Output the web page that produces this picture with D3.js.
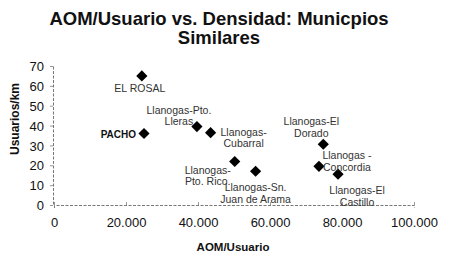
<!DOCTYPE html>
<html>
<head>
<meta charset="utf-8">
<script src="https://cdn.jsdelivr.net/npm/d3@7"></script>
<style>
  body { margin: 0; background: #fff; }
  text { font-family: Arial, "Liberation Sans", sans-serif; }
</style>
</head>
<body>
<div class="canvas"></div>
<script>
// data
const names = ['EL ROSAL', 'PACHO', 'Llanogas-Pto.|Lleras', 'Llanogas-|Cubarral', 'Llanogas-|Pto. Rico.',
    'Llanogas-Sn.|Juan de Arama', 'Llanogas-El|Dorado', 'Llanogas -|Concordia', 'Llanogas-El|Castillo'];
const aomUsuario = [24400, 25000, 39700, 43500, 50200, 56000, 74800, 73600, 78900];
const densidad = [65, 36, 39.5, 36.4, 21.9, 17, 30.6, 19.5, 15.5];
const xTicks = [0, 20000, 40000, 60000, 80000, 100000];
const yTicks = [0, 10, 20, 30, 40, 50, 60, 70];

// label placement (offset from the marker, in px)
const labelPos = [
    { dx: -2, dy: 16, anchor: 'middle' },
    { dx: -8, dy: 4, anchor: 'end', bold: true },
    { dx: -18, dy: -13, anchor: 'middle' },
    { dx: 33, dy: 3, anchor: 'middle' },
    { dx: -27, dy: 12, anchor: 'middle' },
    { dx: 0, dy: 20, anchor: 'middle' },
    { dx: -12, dy: -19, anchor: 'middle' },
    { dx: 28, dy: -7, anchor: 'middle' },
    { dx: 19, dy: 20, anchor: 'middle' }
];

const data = names.map((n, i) => ({ name: n, x: aomUsuario[i], y: densidad[i], pos: labelPos[i] }));

const width = 449, height = 262;
const svg = d3.select('.canvas')
    .append('svg')
    .attr('width', width)
    .attr('height', height);

// scales
const xScale = d3.scaleLinear().domain([0, 100000]).range([54, 414]);
const yScale = d3.scaleLinear().domain([0, 70]).range([205, 66]);

const fmt = d => d === 0 ? '0' : d3.format(',')(d).replace(/,/g, '.');

// title
const title = svg.append('text')
    .attr('x', 219)
    .attr('y', 25)
    .attr('text-anchor', 'middle')
    .attr('font-size', 18.5)
    .attr('font-weight', 'bold')
    .attr('fill', '#111');
title.append('tspan').attr('x', 219).text('AOM/Usuario vs. Densidad: Municpios');
title.append('tspan').attr('x', 219).attr('dy', 19).text('Similares');

// axes
const xAxis = d3.axisBottom(xScale)
    .tickValues(xTicks)
    .tickSize(3)
    .tickPadding(10)
    .tickFormat(fmt);
const yAxis = d3.axisLeft(yScale)
    .tickValues(yTicks)
    .tickSize(3)
    .tickPadding(6);

const xAxisGroup = svg.append('g')
    .attr('transform', `translate(0,${yScale(0)})`)
    .call(xAxis);
const yAxisGroup = svg.append('g')
    .attr('transform', `translate(${xScale(0) - 1},0)`)
    .call(yAxis);

[xAxisGroup, yAxisGroup].forEach(g => {
    g.select('.domain')
        .attr('stroke', '#777')
        .attr('stroke-dasharray', '3,1.5');
    g.selectAll('.tick line').attr('stroke', '#999');
    g.selectAll('.tick text')
        .attr('font-size', 13)
        .attr('fill', '#111')
        .attr('font-family', 'Arial, "Liberation Sans", sans-serif');
});
xAxisGroup.selectAll('.tick line').attr('y2', -3);
yAxisGroup.selectAll('.tick text').attr('dy', '0.36em');

// axis titles
svg.append('text')
    .attr('x', 233)
    .attr('y', 251)
    .attr('text-anchor', 'middle')
    .attr('font-size', 11.5)
    .attr('font-weight', 'bold')
    .attr('fill', '#111')
    .text('AOM/Usuario');

svg.append('text')
    .attr('transform', 'translate(19,119) rotate(-90)')
    .attr('text-anchor', 'middle')
    .attr('font-size', 12)
    .attr('font-weight', 'bold')
    .attr('fill', '#111')
    .text('Usuarios/km');

// markers
const diamond = d3.symbol().type(d3.symbolDiamond2).size(80);
svg.selectAll('path.pt')
    .data(data)
    .enter()
    .append('path')
    .attr('class', 'pt')
    .attr('d', diamond)
    .attr('transform', d => `translate(${xScale(d.x)},${yScale(d.y)})`)
    .attr('fill', '#000');

// point labels
const labels = svg.selectAll('text.lbl')
    .data(data)
    .enter()
    .append('text')
    .attr('class', 'lbl')
    .attr('text-anchor', d => d.pos.anchor)
    .attr('font-size', d => d.pos.bold ? 10 : 10.5)
    .attr('font-weight', d => d.pos.bold ? 'bold' : 'normal')
    .attr('fill', d => d.pos.bold ? '#111' : '#333');

labels.each(function (d) {
    const x = xScale(d.x) + d.pos.dx;
    const y = yScale(d.y) + d.pos.dy;
    d.name.split('|').forEach((line, i) => {
        d3.select(this).append('tspan')
            .attr('x', x)
            .attr('y', y + i * 11.5)
            .text(line);
    });
});
</script>
</body>
</html>
